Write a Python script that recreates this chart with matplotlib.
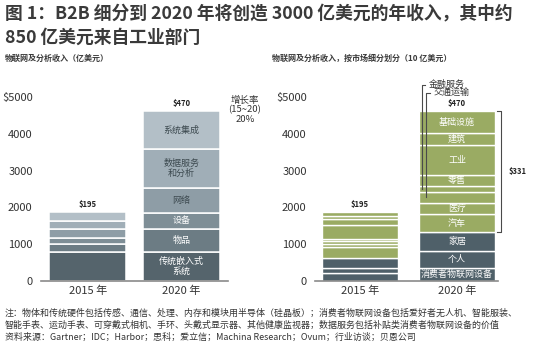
import numpy as np
import matplotlib
matplotlib.use("Agg")
import matplotlib.pyplot as plt

plt.rcParams['font.family'] = ['Noto Sans CJK SC', 'DejaVu Sans']

# --- dane ---
years = ["2015 年", "2020 年"]
totals_left = ["$195", "$470"]
totals_right = ["$195", "$470"]
bracket_label = "$331"

left_cats = ["传统嵌入式\n系统", "物品", "设备", "网络", "数据服务\n和分析", "系统集成"]
left_2015 = [780, 217, 163, 253, 226, 228]
left_2020 = [785, 635, 440, 670, 1055, 1025]
left_colors = ["#55646c", "#6c7c84", "#7e8e96", "#8e9da6", "#a0aeb7", "#b3bfc7"]
left_text = ["white", "white", "white", "#3d4a50", "#3d4a50", "#3d4a50"]

right_cats = ["消费者物联网设备", "个人", "家居", "汽车", "医疗", "交通运输",
              "金融服务", "零售", "工业", "建筑", "基础设施"]
right_2015 = [210, 135, 288, 300, 73, 68, 68, 381, 163, 90, 92]
right_2020 = [355, 465, 510, 480, 320, 290, 170, 290, 810, 320, 610]
right_dark = [True, True, True, False, False, False, False, False, False, False, False]
# segmenty opisane linią nad słupkiem
leader_cats = ["金融服务", "交通运输"]

yticks = [0, 1000, 2000, 3000, 4000, 5000]
ytick_labels = ["0", "1000", "2000", "3000", "4000", "$5000"]

W, H = 533, 353
fig = plt.figure(figsize=(W / 100, H / 100), dpi=100)
fig.patch.set_facecolor("white")


def px_axes(left, right, bottom, top):
    # pozycja osi w pikselach obrazu
    return fig.add_axes([left / W, 1 - bottom / H, (right - left) / W, (bottom - top) / H])


def style_axis(ax, xlim):
    ax.set_xlim(*xlim)
    ax.set_ylim(0, 5000)
    for s in ["top", "right", "left"]:
        ax.spines[s].set_visible(False)
    ax.spines["bottom"].set_color("#8a8a8a")
    ax.spines["bottom"].set_linewidth(1.2)
    ax.set_yticks(yticks)
    ax.set_yticklabels(ytick_labels, fontsize=8, color="#333333", fontweight="medium")
    ax.set_xticks([0, 1])
    ax.set_xticklabels(years, fontsize=8, color="#333333", fontweight="medium")
    ax.tick_params(length=0, axis="y", pad=6)
    ax.tick_params(length=0, axis="x", pad=3)


# --- lewy wykres ---
ax1 = px_axes(41, 228, 281, 97)
style_axis(ax1, (-0.5, 1.5))
w1 = 0.82
for xi, vals in enumerate([left_2015, left_2020]):
    bottoms = np.concatenate([[0], np.cumsum(vals)[:-1]])
    ax1.bar([xi] * len(vals), vals, bottom=bottoms, width=w1, color=left_colors,
            edgecolor="white", linewidth=1.1)
    ax1.text(xi, sum(vals) + 90, totals_left[xi], ha="center", va="bottom",
             fontsize=5.5, fontweight="bold", color="#222222")
    if xi == 1:
        for lab, b, v, tc in zip(left_cats, bottoms, vals, left_text):
            ax1.text(xi, b + v / 2, lab, ha="center", va="center", fontsize=6.5,
                     color=tc, linespacing=1.2)

ax1.text(1.68, 5030, "增长率\n(15~20)\n20%", ha="center", va="top", fontsize=6.8,
         color="#333333", linespacing=1.05, clip_on=False)

# --- prawy wykres ---
ax2 = px_axes(315, 498, 281, 97)
style_axis(ax2, (-0.46, 1.42))
w2 = 0.78
green = "#9aab63"
dark = "#4f6069"
for xi, vals in enumerate([right_2015, right_2020]):
    bottoms = np.concatenate([[0], np.cumsum(vals)[:-1]])
    cols = [dark if d else green for d in right_dark]
    ax2.bar([xi] * len(vals), vals, bottom=bottoms, width=w2, color=cols,
            edgecolor="white", linewidth=1.0)
    ax2.text(xi, sum(vals) + 90, totals_right[xi], ha="center", va="bottom",
             fontsize=5.5, fontweight="bold", color="#222222")
    if xi == 1:
        x_left = xi - w2 / 2
        for i, (lab, b, v) in enumerate(zip(right_cats, bottoms, vals)):
            if lab in leader_cats:
                k = leader_cats.index(lab)
                lx = x_left + 0.025 + 0.05 * k
                ytop = 5330 - 210 * k
                ax2.plot([lx, lx, lx + 0.04], [b + v / 2, ytop, ytop], color="#4a4a4a",
                         lw=0.8, clip_on=False, zorder=5)
                ax2.text(lx + 0.07, ytop, lab, ha="left", va="center", fontsize=6.5,
                         color="#333333", clip_on=False)
            else:
                ax2.text(xi, b + v / 2, lab, ha="center", va="center", fontsize=6.5,
                         color="white")
        # klamra
        top = sum(vals)
        low = sum(vals[:3])
        bx = xi + w2 / 2 + 0.06
        ax2.plot([bx - 0.04, bx, bx, bx - 0.04], [top, top, low, low], color="#4a4a4a",
                 lw=0.8, clip_on=False)
        ax2.text(bx + 0.08, (top + low) / 2, bracket_label, ha="left", va="center",
                 fontsize=5.5, fontweight="bold", color="#222222", clip_on=False)

# --- tytuły i przypisy ---
fig.text(5 / W, 1 - 14 / H, "图 1：B2B 细分到 2020 年将创造 3000 亿美元的年收入，其中约",
         fontsize=12.8, fontweight="bold", color="#3a3a3a", va="center", ha="left")
fig.text(5 / W, 1 - 38 / H, "850 亿美元来自工业部门",
         fontsize=12.8, fontweight="bold", color="#3a3a3a", va="center", ha="left")
fig.text(5 / W, 1 - 58 / H, "物联网及分析收入（亿美元）", fontsize=5.8, fontweight="bold",
         color="#3a3a3a", va="center", ha="left")
fig.text(272 / W, 1 - 58 / H, "物联网及分析收入，按市场细分划分（10 亿美元）", fontsize=5.8,
         fontweight="bold", color="#3a3a3a", va="center", ha="left")

notes = [
    "注：物体和传统硬件包括传感、通信、处理、内存和模块用半导体（硅晶板）；消费者物联网设备包括爱好者无人机、智能服装、",
    "智能手表、运动手表、可穿戴式相机、手环、头戴式显示器、其他健康监视器；数据服务包括补贴类消费者物联网设备的价值",
    "资料来源：Gartner；IDC；Harbor；思科；爱立信；Machina Research；Ovum；行业访谈；贝恩公司",
]
for i, line in enumerate(notes):
    fig.text(5 / W, 1 - (313 + 12 * i) / H, line, fontsize=6.45, color="#333333",
             va="center", ha="left", fontweight="medium")

fig.savefig("out.png", dpi=100)
